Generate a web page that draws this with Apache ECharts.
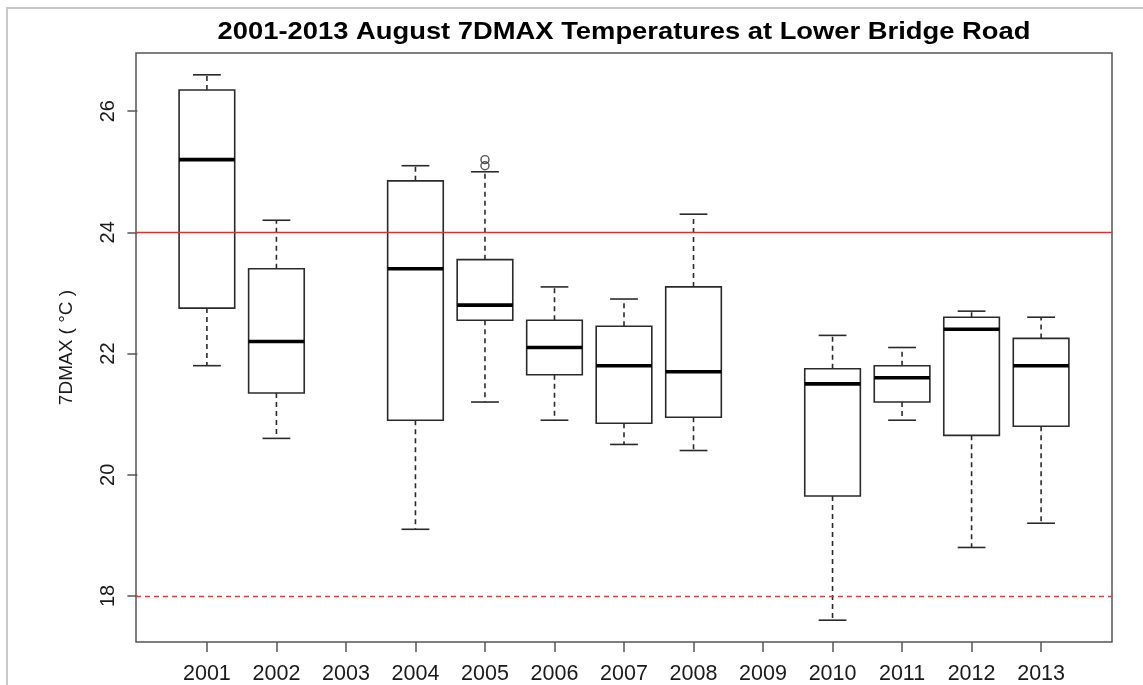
<!DOCTYPE html>
<html>
<head>
<meta charset="utf-8">
<script src="https://cdn.jsdelivr.net/npm/echarts@6/dist/echarts.min.js"></script>
<style>
html,body{margin:0;padding:0;background:#fff;}
#chart{width:1143px;height:685px;}
</style>
</head>
<body>
<div id="chart"></div>
<script>
// ---- data ----
var chartTitle = '2001-2013 August 7DMAX Temperatures at Lower Bridge Road';
var years = ['2001','2002','2003','2004','2005','2006','2007','2008','2009','2010','2011','2012','2013'];
var whiskerLow  = [21.8, 20.6, null, 19.1, 21.2, 20.9, 20.5, 20.4, null, 17.6, 20.9, 18.8, 19.2];
var quart1      = [22.75, 21.35, null, 20.9, 22.55, 21.65, 20.85, 20.95, null, 19.65, 21.2, 20.65, 20.8];
var medians     = [25.2, 22.2, null, 23.4, 22.8, 22.1, 21.8, 21.7, null, 21.5, 21.6, 22.4, 21.8];
var quart3      = [26.35, 23.4, null, 24.85, 23.55, 22.55, 22.45, 23.1, null, 21.75, 21.8, 22.6, 22.25];
var whiskerHigh = [26.6, 24.2, null, 25.1, 25.0, 23.1, 22.9, 24.3, null, 22.3, 22.1, 22.7, 22.6];
var outlierYears  = ['2005', '2005'];
var outlierValues = [25.1, 25.2];
var yTicks = [18, 20, 22, 24, 26];
var upperCriterion = 24;
var lowerCriterion = 18;

// ---- build ----
var boxData = [];
years.forEach(function (y, i) {
  if (medians[i] == null) return;
  boxData.push([i + 1, whiskerLow[i], quart1[i], medians[i], quart3[i], whiskerHigh[i]]);
});
var outlierData = outlierYears.map(function (y, k) {
  return [years.indexOf(y) + 1, outlierValues[k]];
});
var xTickValues = years.map(function (y, i) { return i + 1; });

var chart = echarts.init(document.getElementById('chart'));
var FONT = '"Liberation Sans", Arial, sans-serif';
var boxColor = '#2a2a2a';

function renderBox(params, api) {
  var x = api.value(0);
  var lo = api.coord([x, api.value(1)]);
  var q1 = api.coord([x, api.value(2)]);
  var md = api.coord([x, api.value(3)]);
  var q3 = api.coord([x, api.value(4)]);
  var hi = api.coord([x, api.value(5)]);
  var bl = api.coord([x - 0.4, 0])[0];
  var br = api.coord([x + 0.4, 0])[0];
  var cl = api.coord([x - 0.2, 0])[0];
  var cr = api.coord([x + 0.2, 0])[0];
  var cx = lo[0];
  var solid = { stroke: boxColor, lineWidth: 1.6, fill: null };
  var dashed = { stroke: boxColor, lineWidth: 1.6, lineDash: [5, 4], fill: null };
  return {
    type: 'group',
    children: [
      { type: 'line', shape: { x1: cx, y1: q3[1], x2: cx, y2: hi[1] }, style: dashed },
      { type: 'line', shape: { x1: cx, y1: q1[1], x2: cx, y2: lo[1] }, style: dashed },
      { type: 'line', shape: { x1: cl, y1: hi[1], x2: cr, y2: hi[1] }, style: solid },
      { type: 'line', shape: { x1: cl, y1: lo[1], x2: cr, y2: lo[1] }, style: solid },
      { type: 'rect', shape: { x: bl, y: q3[1], width: br - bl, height: q1[1] - q3[1] },
        style: { stroke: boxColor, lineWidth: 1.6, fill: '#fff' } },
      { type: 'line', shape: { x1: bl, y1: md[1], x2: br, y2: md[1] },
        style: { stroke: '#000', lineWidth: 3.6 } }
    ]
  };
}

var option = {
  backgroundColor: '#fff',
  animation: false,
  graphic: [
    {
      type: 'rect', silent: true,
      shape: { x: 7, y: 8, width: 1160, height: 700 },
      style: { stroke: '#c8c8c8', lineWidth: 2, fill: null },
      z: -10
    },
    {
      type: 'text', silent: true,
      x: 624, y: 32, scaleX: 1.14, scaleY: 1,
      style: {
        text: chartTitle, x: 0, y: 0,
        align: 'center', verticalAlign: 'middle',
        fontFamily: FONT, fontWeight: 'bold', fontSize: 24, fill: '#000'
      }
    }
  ],
  grid: {
    left: 136, right: 31, top: 53, bottom: 43,
    show: true, borderColor: '#555', borderWidth: 1.5, backgroundColor: 'transparent'
  },
  xAxis: {
    type: 'value',
    min: -0.02, max: 14.02,
    splitLine: { show: false },
    axisLine: { show: false },
    axisTick: { show: true, customValues: xTickValues,
      length: 10, lineStyle: { color: '#555', width: 1.5 } },
    axisLabel: { customValues: xTickValues,
      formatter: function (v) { return years[Math.round(v) - 1]; },
      fontFamily: FONT, fontSize: 21.5, color: '#1a1a1a', margin: 21 }
  },
  yAxis: {
    type: 'value',
    min: 17.24, max: 26.96,
    name: '7DMAX ( °C )',
    nameLocation: 'middle',
    nameRotate: 90,
    nameGap: 60,
    nameTextStyle: { fontFamily: FONT, fontSize: 19, color: '#1a1a1a' },
    splitLine: { show: false },
    axisLine: { show: false },
    axisTick: { show: true, customValues: yTicks, length: 10, lineStyle: { color: '#555', width: 1.5 } },
    axisLabel: { customValues: yTicks, rotate: 90, fontFamily: FONT, fontSize: 20, color: '#1a1a1a', margin: 18 }
  },
  series: [
    {
      type: 'custom',
      renderItem: renderBox,
      data: boxData,
      encode: { x: 0, y: [1, 2, 3, 4, 5] },
      z: 3,
      markLine: {
        silent: true,
        symbol: 'none',
        label: { show: false },
        data: [
          { yAxis: upperCriterion, lineStyle: { color: '#ff2020', width: 1.3, type: 'solid' } },
          { yAxis: lowerCriterion, lineStyle: { color: '#ff3030', width: 1.3, type: [5, 4] } }
        ]
      }
    },
    {
      type: 'scatter',
      data: outlierData,
      symbol: 'circle',
      symbolSize: 8,
      itemStyle: { color: 'transparent', borderColor: boxColor, borderWidth: 1.4 },
      z: 4
    }
  ]
};
chart.setOption(option);
</script>
</body>
</html>
